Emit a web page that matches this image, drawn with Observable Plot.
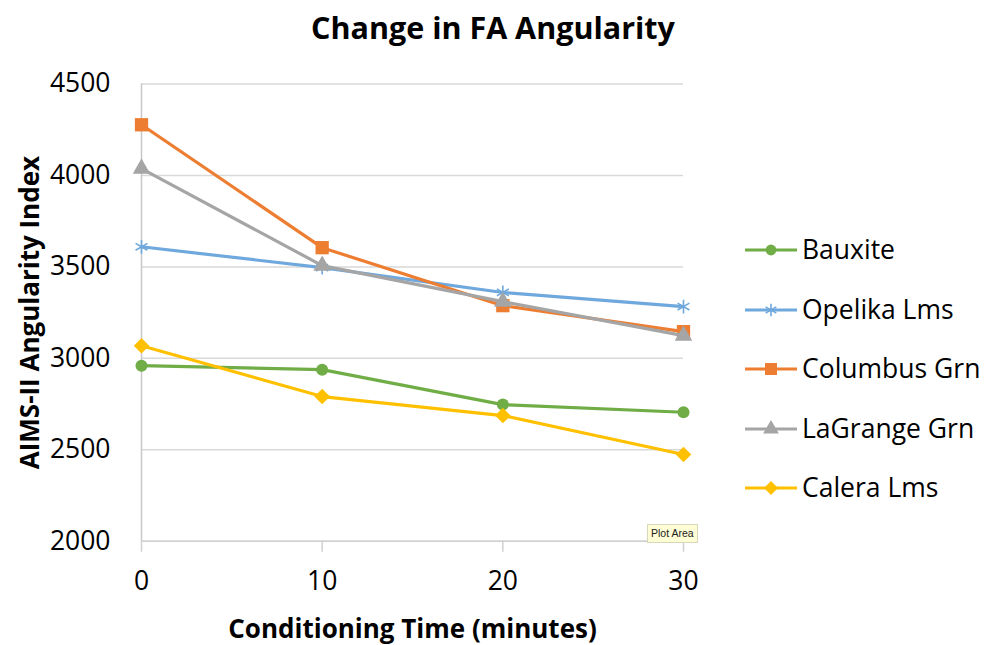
<!DOCTYPE html>
<html>
<head>
<meta charset="utf-8">
<script src="https://cdn.jsdelivr.net/npm/d3@7"></script>
<script src="https://cdn.jsdelivr.net/npm/@observablehq/plot@0.6"></script>
<style>
  html, body { margin: 0; padding: 0; background: #fff; }
  body { width: 984px; height: 645px; overflow: hidden; font-family: "Open Sans", sans-serif; }
  #wrap { position: relative; width: 984px; height: 645px; }
  #title { height: 56px; line-height: 54px; text-align: center; font-weight: 700; font-size: 30.5px; color: #000; padding-left: 2px; }
  #legend { position: absolute; left: 745px; top: 235px; }
  .row { position: absolute; left: 0; height: 30px; white-space: nowrap; }
  .row svg { position: absolute; left: 0; top: 0; }
  .row span { position: absolute; left: 57px; top: -3px; font-size: 26.5px; color: #000; line-height: 34px; }
  #tip { position: absolute; left: 647px; top: 524px; font-size: 10.5px; font-family: "Liberation Sans", sans-serif;
         background: #fdfdd6; border: 1px solid #d8d8b8; padding: 2px 3px; color: #222; line-height: 13px; }
</style>
</head>
<body>
<div id="wrap">
  <div id="title">Change in FA Angularity</div>
  <div id="chart"></div>
  <div id="legend"></div>
  <div id="tip">Plot Area</div>
</div>
<script>
// Conditioning time (minutes) and AIMS-II angularity index per aggregate
const minutes = [0, 10, 20, 30];
const bauxite = [2960, 2938, 2747, 2705];
const opelikaLms = [3610, 3496, 3360, 3283];
const columbusGrn = [4277, 3605, 3288, 3146];
const lagrangeGrn = [4037, 3507, 3310, 3124];
const caleraLms = [3069, 2791, 2687, 2474];
const yTicks = [2000, 2500, 3000, 3500, 4000, 4500];

const series = [
  {name: "Bauxite", values: bauxite, color: "#70AD47", symbol: "circle", r: 6, fill: true},
  {name: "Opelika Lms", values: opelikaLms, color: "#6FA8DC", symbol: "asterisk", r: 6.5, fill: false},
  {name: "Columbus Grn", values: columbusGrn, color: "#ED7D31", symbol: "square", r: 7.5, fill: true},
  {name: "LaGrange Grn", values: lagrangeGrn, color: "#A5A5A5", symbol: "triangle", r: 6.5, fill: true},
  {name: "Calera Lms", values: caleraLms, color: "#FFC000", symbol: "diamond2", r: 7, fill: true}
];

const marks = [
  Plot.gridY({ticks: yTicks, stroke: "#d9d9d9", strokeOpacity: 1, strokeWidth: 1.5}),
  Plot.ruleX([0], {y1: 2000, y2: 4500, stroke: "#c8c8c8", strokeWidth: 1.5}),
  Plot.ruleY([2000], {stroke: "#d0d0d0", strokeWidth: 1.5}),
  Plot.axisY({ticks: yTicks, tickFormat: "d", tickSize: 0, tickPadding: 31, fontSize: 26.5,
    label: "AIMS-II Angularity Index", labelAnchor: "center", labelArrow: "none", labelOffset: 121}),
  Plot.axisX({ticks: minutes, tickFormat: "d", tickSize: 11, tickPadding: 19, fontSize: 26.5,
    stroke: "#d0d0d0", strokeWidth: 1.5,
    label: "Conditioning Time (minutes)", labelAnchor: "center", labelArrow: "none", labelOffset: 97})
];

for (const s of series) {
  const rows = minutes.map((m, i) => ({x: m, y: s.values[i]}));
  marks.push(Plot.line(rows, {x: "x", y: "y", stroke: s.color, strokeWidth: 3.2}));
  marks.push(Plot.dot(rows, {
    x: "x", y: "y", symbol: s.symbol, r: s.r,
    fill: s.fill ? s.color : "none", stroke: s.color, strokeWidth: s.fill ? 0 : 1.6
  }));
}

const chart = Plot.plot({
  width: 984,
  height: 589,
  marginLeft: 141,
  marginRight: 301,
  marginTop: 27.5,
  marginBottom: 104.3,
  style: {fontFamily: "Open Sans, sans-serif", fontSize: "26px", color: "#000", background: "transparent", overflow: "visible"},
  x: {type: "linear", domain: [0, 30]},
  y: {type: "linear", domain: [2000, 4500]},
  marks
});
chart.querySelectorAll('g[aria-label="y-axis label"] text, g[aria-label="x-axis label"] text')
  .forEach(t => { t.setAttribute("font-weight", "700"); t.setAttribute("font-size", "26"); });
chart.querySelectorAll('g[aria-label="x-axis tick label"] text, g[aria-label="y-axis tick label"] text')
  .forEach(t => t.setAttribute("fill", "#000"));
document.getElementById("chart").appendChild(chart);

// Legend: one swatch per series with its line and marker
const legend = d3.select("#legend");
series.forEach((s, i) => {
  const row = legend.append("div").attr("class", "row").style("top", `${i * 59.5}px`);
  const svg = row.append("svg").attr("width", 56).attr("height", 30);
  svg.append("line").attr("x1", 0).attr("x2", 52).attr("y1", 15).attr("y2", 15)
    .attr("stroke", s.color).attr("stroke-width", 3.2);
  const sym = {circle: d3.symbolCircle, asterisk: d3.symbolAsterisk, square: d3.symbolSquare,
               triangle: d3.symbolTriangle, diamond2: d3.symbolDiamond2}[s.symbol];
  const rr = s.r * 0.9;
  svg.append("path").attr("transform", "translate(26,15)")
    .attr("d", d3.symbol(sym, Math.PI * rr * rr)())
    .attr("fill", s.fill ? s.color : "none").attr("stroke", s.fill ? "none" : s.color).attr("stroke-width", 1.6);
  row.append("span").text(s.name);
});
</script>
</body>
</html>
